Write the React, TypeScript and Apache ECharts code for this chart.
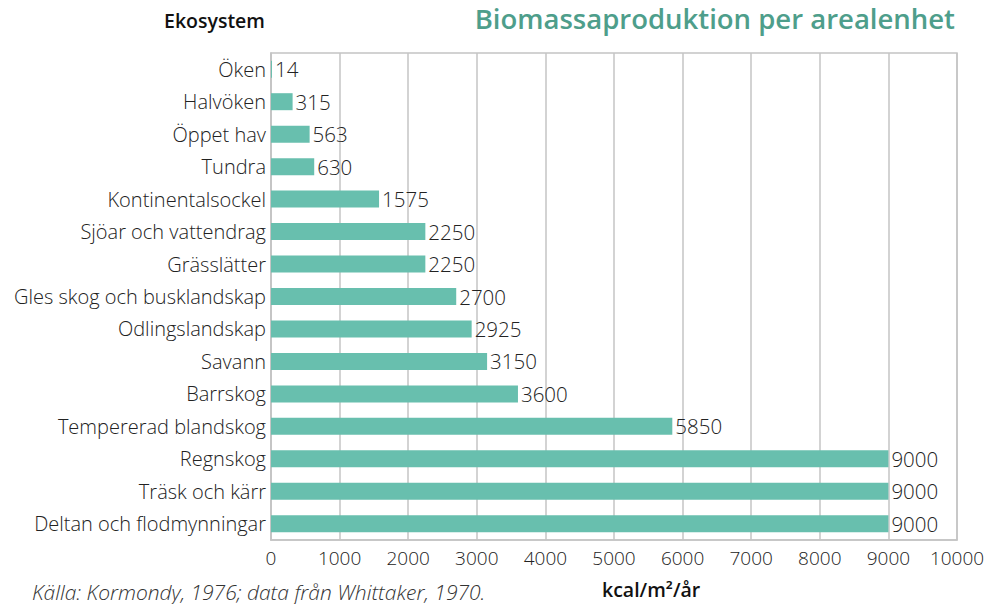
import React, { useEffect, useRef } from "react";
import * as echarts from "echarts";

const categories = [
  "Öken",
  "Halvöken",
  "Öppet hav",
  "Tundra",
  "Kontinentalsockel",
  "Sjöar och vattendrag",
  "Grässlätter",
  "Gles skog och busklandskap",
  "Odlingslandskap",
  "Savann",
  "Barrskog",
  "Tempererad blandskog",
  "Regnskog",
  "Träsk och kärr",
  "Deltan och flodmynningar",
];
const values = [14, 315, 563, 630, 1575, 2250, 2250, 2700, 2925, 3150, 3600, 5850, 9000, 9000, 9000];

const FONT = "'Open Sans', Lato, sans-serif";

export default function App() {
  const ref = useRef<HTMLDivElement>(null);
  useEffect(() => {
    if (!ref.current) return;
    const chart = echarts.init(ref.current, undefined, { renderer: "svg" });
    chart.setOption({
      animation: false,
      backgroundColor: "#ffffff",
      grid: {
        left: 271,
        right: 46,
        top: 53,
        bottom: 64,
        show: true,
        borderColor: "#c4c4c4",
        borderWidth: 1.5,
      },
      graphic: [
        {
          type: "text",
          left: 164,
          top: 10,
          style: { text: "Ekosystem", font: `600 19.5px ${FONT}`, fill: "#111" },
        },
        {
          type: "text",
          right: 48,
          top: 4,
          style: { text: "Biomassaproduktion per arealenhet", font: `600 27.5px ${FONT}`, fill: "#4e9e8b" },
        },
        {
          type: "text",
          left: 32,
          top: 581,
          style: { text: "Källa: Kormondy, 1976; data från Whittaker, 1970.", font: `italic 300 21px ${FONT}`, fill: "#333" },
        },
        {
          type: "text",
          left: 602,
          top: 579,
          style: { text: "kcal/m²/år", font: `600 19.5px ${FONT}`, fill: "#111" },
        },
      ],
      xAxis: {
        type: "value",
        min: 0,
        max: 10000,
        interval: 1000,
        axisLine: { show: true, lineStyle: { color: "#c4c4c4", width: 1.5 } },
        axisTick: { show: false },
        splitLine: { show: true, lineStyle: { color: "#c4c4c4", width: 1.5 } },
        axisLabel: {
          color: "#222",
          fontSize: 19,
          fontFamily: FONT,
          fontWeight: 300,
          margin: 8,
          formatter: (v: number) => String(v),
        },
      },
      yAxis: {
        type: "category",
        data: categories,
        inverse: true,
        axisLine: { show: true, lineStyle: { color: "#c4c4c4", width: 1.5 } },
        axisTick: { show: false },
        axisLabel: { color: "#222", fontSize: 20, fontFamily: FONT, fontWeight: 300, margin: 5 },
      },
      series: [
        {
          type: "bar",
          data: values,
          barWidth: 17,
          itemStyle: { color: "#68bfae" },
          label: {
            show: true,
            position: "right",
            distance: 3,
            color: "#222",
            fontSize: 20.5,
            fontFamily: FONT,
            fontWeight: 300,
          },
        },
      ],
    });
    return () => chart.dispose();
  }, []);
  return <div ref={ref} style={{ width: 1003, height: 604, position: "absolute", left: 0, top: 0 }} />;
}
